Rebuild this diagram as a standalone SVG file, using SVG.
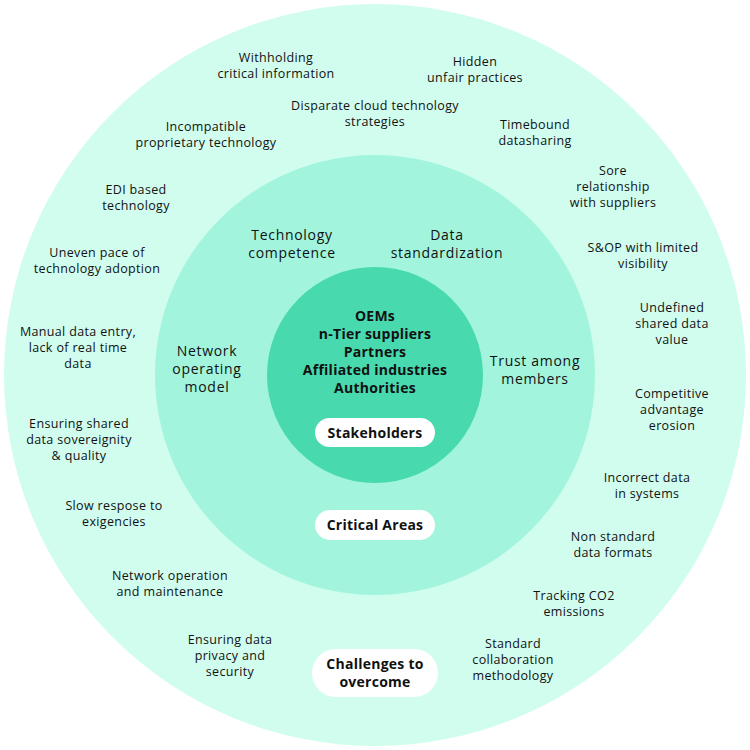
<svg xmlns="http://www.w3.org/2000/svg" width="750" height="750" viewBox="0 0 750 750">
<style>
.t{font-family:"Open Sans","Liberation Sans",sans-serif;fill:#111;text-anchor:middle}
.o{font-size:12.5px;letter-spacing:0.35px}
.m{font-size:14px;letter-spacing:0.7px}
.b{font-size:14px;font-weight:bold;letter-spacing:0.25px}
.pill{fill:#fff}
</style>
<rect width="750" height="750" fill="#fff"/>
<g id="ring-outer"><circle cx="375" cy="375" r="371" fill="#d1fdef"/></g>
<g id="ring-middle"><circle cx="375" cy="375" r="220" fill="#a2f5dc"/></g>
<g id="ring-inner"><circle cx="375" cy="375" r="108" fill="#48d9ae"/></g>
<g id="stakeholders" class="t b">
<text x="375" y="321">OEMs</text>
<text x="375" y="339">n-Tier suppliers</text>
<text x="375" y="357">Partners</text>
<text x="375" y="375">Affiliated industries</text>
<text x="375" y="393">Authorities</text>
</g>
<g id="label-stakeholders"><rect class="pill" x="315" y="418" width="120" height="29" rx="14.5"/><text class="t b" x="375" y="438">Stakeholders</text></g>
<g id="label-critical"><rect class="pill" x="315" y="510" width="120" height="30" rx="15"/><text class="t b" x="375" y="530">Critical Areas</text></g>
<g id="label-challenges"><rect class="pill" x="312" y="649" width="126" height="48" rx="24"/><text class="t b" x="375" y="669">Challenges to</text><text class="t b" x="375" y="687">overcome</text></g>
<g id="critical-areas" class="t m">
<text x="292" y="240">Technology</text><text x="292" y="258">competence</text>
<text x="447" y="240">Data</text><text x="447" y="258">standardization</text>
<text x="207" y="356">Network</text><text x="207" y="374">operating</text><text x="207" y="392">model</text>
<text x="535" y="366">Trust among</text><text x="535" y="384">members</text>
</g>
<g id="challenges" class="t o">
<text x="276" y="62">Withholding</text><text x="276" y="78">critical information</text>
<text x="475" y="66">Hidden</text><text x="475" y="82">unfair practices</text>
<text x="375" y="110">Disparate cloud technology</text><text x="375" y="126">strategies</text>
<text x="206" y="131">Incompatible</text><text x="206" y="147">proprietary technology</text>
<text x="535" y="129">Timebound</text><text x="535" y="145">datasharing</text>
<text x="613" y="175">Sore</text><text x="613" y="191">relationship</text><text x="613" y="207">with suppliers</text>
<text x="136" y="194">EDI based</text><text x="136" y="210">technology</text>
<text x="643" y="252">S&amp;OP with limited</text><text x="643" y="268">visibility</text>
<text x="97" y="257">Uneven pace of</text><text x="97" y="273">technology adoption</text>
<text x="672" y="312">Undefined</text><text x="672" y="328">shared data</text><text x="672" y="344">value</text>
<text x="78" y="336">Manual data entry,</text><text x="78" y="352">lack of real time</text><text x="78" y="368">data</text>
<text x="672" y="398">Competitive</text><text x="672" y="414">advantage</text><text x="672" y="430">erosion</text>
<text x="79" y="428">Ensuring shared</text><text x="79" y="444">data sovereignity</text><text x="79" y="460">&amp; quality</text>
<text x="647" y="482">Incorrect data</text><text x="647" y="498">in systems</text>
<text x="114" y="510">Slow respose to</text><text x="114" y="526">exigencies</text>
<text x="613" y="541">Non standard</text><text x="613" y="557">data formats</text>
<text x="170" y="580">Network operation</text><text x="170" y="596">and maintenance</text>
<text x="574" y="600">Tracking CO2</text><text x="574" y="616">emissions</text>
<text x="230" y="644">Ensuring data</text><text x="230" y="660">privacy and</text><text x="230" y="676">security</text>
<text x="513" y="648">Standard</text><text x="513" y="664">collaboration</text><text x="513" y="680">methodology</text>
</g>
</svg>
